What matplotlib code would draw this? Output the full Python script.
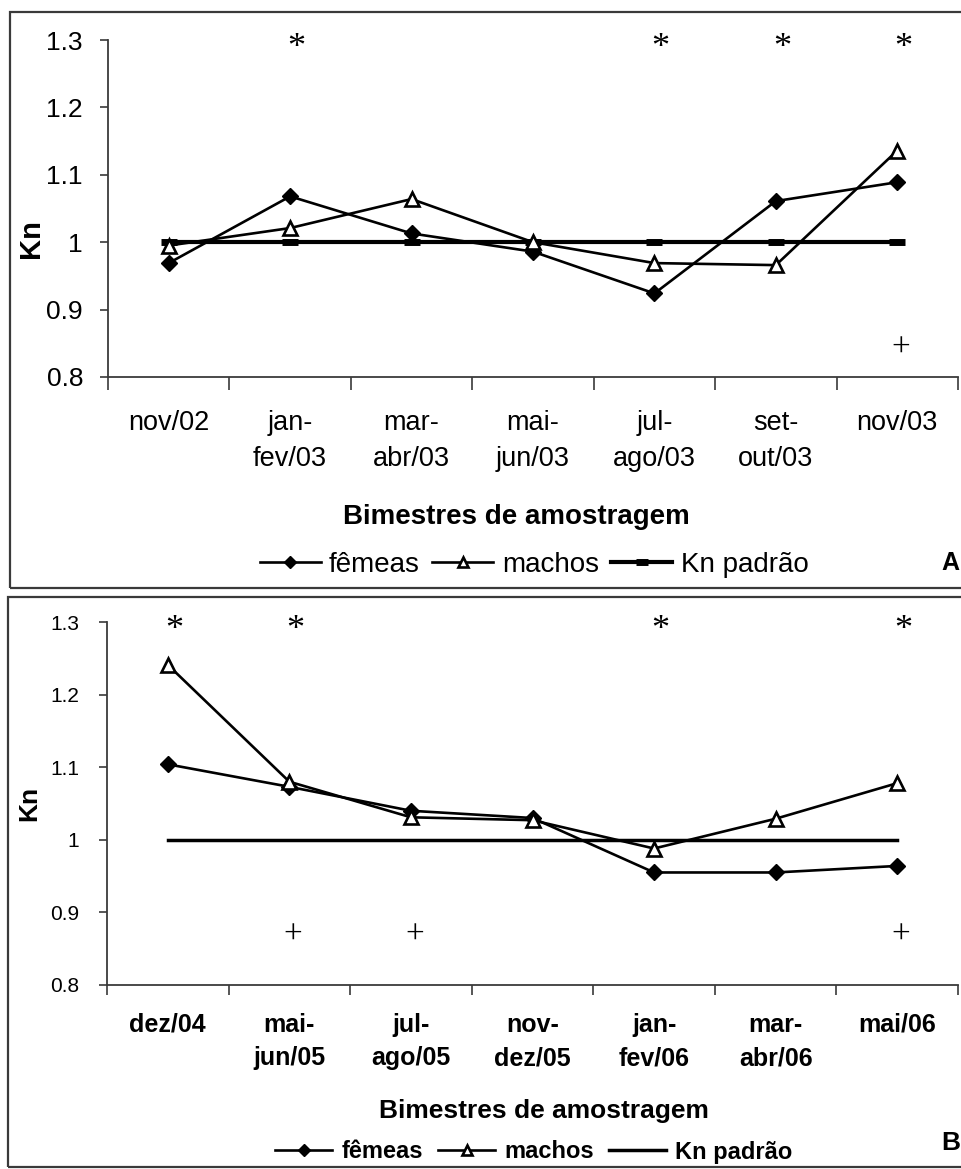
"""
Kn (relative condition factor) per sampling bimester, females vs males.
Two stacked panels (A: 2002-2003, B: 2004-2006) in Excel-like style.
"""

import matplotlib
matplotlib.use("Agg")
import matplotlib.pyplot as plt
from matplotlib.patches import Rectangle

# ---- data -----------------------------------------------------------------
CATS_A = ["nov/02", "jan-\nfev/03", "mar-\nabr/03", "mai-\njun/03",
          "jul-\nago/03", "set-\nout/03", "nov/03"]
FEMEAS_A = [0.969, 1.068, 1.013, 0.986, 0.924, 1.061, 1.089]
MACHOS_A = [0.995, 1.021, 1.064, 1.000, 0.969, 0.966, 1.136]
PADRAO_A = [1.0, 1.0, 1.0, 1.0, 1.0, 1.0, 1.0]
SIG_A = [1, 4, 5, 6]        # bimesters marked with *
CROSS_A = [6]               # bimesters marked with +
CROSS_LEVEL_A = 0.845

CATS_B = ["dez/04", "mai-\njun/05", "jul-\nago/05", "nov-\ndez/05",
          "jan-\nfev/06", "mar-\nabr/06", "mai/06"]
FEMEAS_B = [1.104, 1.073, 1.040, 1.030, 0.955, 0.955, 0.964]
MACHOS_B = [1.241, 1.080, 1.031, 1.027, 0.988, 1.029, 1.078]
PADRAO_B = [1.0, 1.0, 1.0, 1.0, 1.0, 1.0, 1.0]
SIG_B = [0, 1, 4, 6]
CROSS_B = [1, 2, 6]
CROSS_LEVEL_B = 0.87

YTICKS = [0.8, 0.9, 1.0, 1.1, 1.2, 1.3]
YTICK_LABELS = ["0.8", "0.9", "1", "1.1", "1.2", "1.3"]
XLABEL = "Bimestres de amostragem"
YLABEL = "Kn"
SERIES = ["fêmeas", "machos", "Kn padrão"]

W, H = 962, 1169
SANS = ["Liberation Sans", "DejaVu Sans"]
SERIF = ["Liberation Serif", "DejaVu Serif"]
AXIS_COLOR = "#3a3a3a"


def fx(px):
    return px / W


def fy(py):
    return 1 - py / H


def draw_panel(ax, cats, fem, mac, pad, sig, cross, cross_level,
               padrao_marker, tick_font, ytick_font, xtick_len, xtick_pad,
               ytick_pad, line_pad):
    x = list(range(len(cats)))
    ax.plot(x, pad, color="black", lw=line_pad, marker=padrao_marker,
            ms=11, mew=5, label=SERIES[2], zorder=2)
    ax.plot(x, fem, color="black", lw=1.9, marker="D", ms=8.5,
            mfc="black", mec="black", label=SERIES[0], zorder=3)
    ax.plot(x, mac, color="black", lw=1.9, marker="^", ms=10.5,
            mfc="white", mec="black", mew=1.9, label=SERIES[1], zorder=4)

    for i in sig:
        ax.annotate("*", xy=(i + 0.05, 1.3), xytext=(0, -12),
                    textcoords="offset points", ha="center", va="baseline",
                    fontsize=26, family=SERIF, annotation_clip=False)
    for i in cross:
        ax.annotate("+", xy=(i + 0.03, cross_level), xytext=(0, -7),
                    textcoords="offset points", ha="center", va="baseline",
                    fontsize=24, family=SERIF)

    ax.set_xlim(-0.5, len(cats) - 0.5)
    ax.set_ylim(0.8, 1.3)
    ax.set_yticks(YTICKS)
    ax.set_yticklabels(YTICK_LABELS, **ytick_font)
    ax.tick_params(axis="y", direction="out", length=6, width=1.2,
                   color=AXIS_COLOR, pad=ytick_pad)

    # category boundaries carry the tick marks, labels sit between them
    ax.set_xticks([i - 0.5 for i in range(len(cats) + 1)])
    ax.set_xticklabels([])
    ax.set_xticks(x, minor=True)
    ax.set_xticklabels(cats, minor=True, linespacing=1.5, **tick_font)
    ax.tick_params(axis="x", which="major", direction="out", length=xtick_len,
                   width=1.2, color=AXIS_COLOR)
    ax.tick_params(axis="x", which="minor", length=0, pad=xtick_pad)

    for side in ("top", "right"):
        ax.spines[side].set_visible(False)
    for side in ("left", "bottom"):
        ax.spines[side].set_color(AXIS_COLOR)
        ax.spines[side].set_linewidth(1.3)


fig = plt.figure(figsize=(W / 100, H / 100), dpi=100)

# panel frames (right edge runs off the picture, as in the scan)
fig.add_artist(Rectangle((fx(10), fy(588)), 1.2, (588 - 12) / H,
                         transform=fig.transFigure, fill=False,
                         ec=AXIS_COLOR, lw=1.6, clip_on=False))
fig.add_artist(Rectangle((fx(8), fy(1167)), 1.2, (1167 - 597) / H,
                         transform=fig.transFigure, fill=False,
                         ec=AXIS_COLOR, lw=1.6, clip_on=False))

order = [1, 2, 0]

# ---- panel A --------------------------------------------------------------
ax_a = fig.add_axes([fx(108), fy(377), (958 - 108) / W, (377 - 40) / H])
draw_panel(ax_a, CATS_A, FEMEAS_A, MACHOS_A, PADRAO_A, SIG_A, CROSS_A,
           CROSS_LEVEL_A, "_",
           tick_font=dict(family=SANS, fontsize=19.5),
           ytick_font=dict(family=SANS, fontsize=19),
           xtick_len=9, xtick_pad=24, ytick_pad=12, line_pad=3.0)
ax_a.set_ylabel(YLABEL, family=SANS, fontsize=21, fontweight="bold")
ax_a.yaxis.set_label_coords(-0.074, 0.41)
fig.text(fx(516), fy(524), XLABEL, ha="center", va="baseline",
         family=SANS, fontsize=20, fontweight="bold")
h, l = ax_a.get_legend_handles_labels()
fig.legend([h[i] for i in order], [l[i] for i in order], loc="center",
           bbox_to_anchor=(fx(534), fy(565)), ncol=3, frameon=False,
           prop=dict(family=SANS, size=20), handlelength=2.2,
           handletextpad=0.3, columnspacing=0.45, markerscale=0.75,
           borderpad=0, borderaxespad=0)
fig.text(fx(941), fy(570), "A", ha="left", va="baseline",
         family=SANS, fontsize=18, fontweight="bold")

# ---- panel B --------------------------------------------------------------
ax_b = fig.add_axes([fx(107), fy(985), (958 - 107) / W, (985 - 622) / H])
draw_panel(ax_b, CATS_B, FEMEAS_B, MACHOS_B, PADRAO_B, SIG_B, CROSS_B,
           CROSS_LEVEL_B, "None",
           tick_font=dict(family=SANS, fontsize=18, fontweight="bold"),
           ytick_font=dict(family=SANS, fontsize=15),
           xtick_len=7, xtick_pad=20, ytick_pad=14, line_pad=2.5)
ax_b.set_ylabel(YLABEL, family=SANS, fontsize=19, fontweight="bold")
ax_b.yaxis.set_label_coords(-0.077, 0.5)
fig.text(fx(544), fy(1118), XLABEL, ha="center", va="baseline",
         family=SANS, fontsize=19, fontweight="bold")
h, l = ax_b.get_legend_handles_labels()
fig.legend([h[i] for i in order], [l[i] for i in order], loc="center",
           bbox_to_anchor=(fx(534), fy(1152)), ncol=3, frameon=False,
           prop=dict(family=SANS, size=17, weight="bold"), handlelength=2.4,
           handletextpad=0.4, columnspacing=0.65, markerscale=0.75,
           borderpad=0, borderaxespad=0)
fig.text(fx(941), fy(1150), "B", ha="left", va="baseline",
         family=SANS, fontsize=19, fontweight="bold")

fig.savefig("out.png", dpi=100)
